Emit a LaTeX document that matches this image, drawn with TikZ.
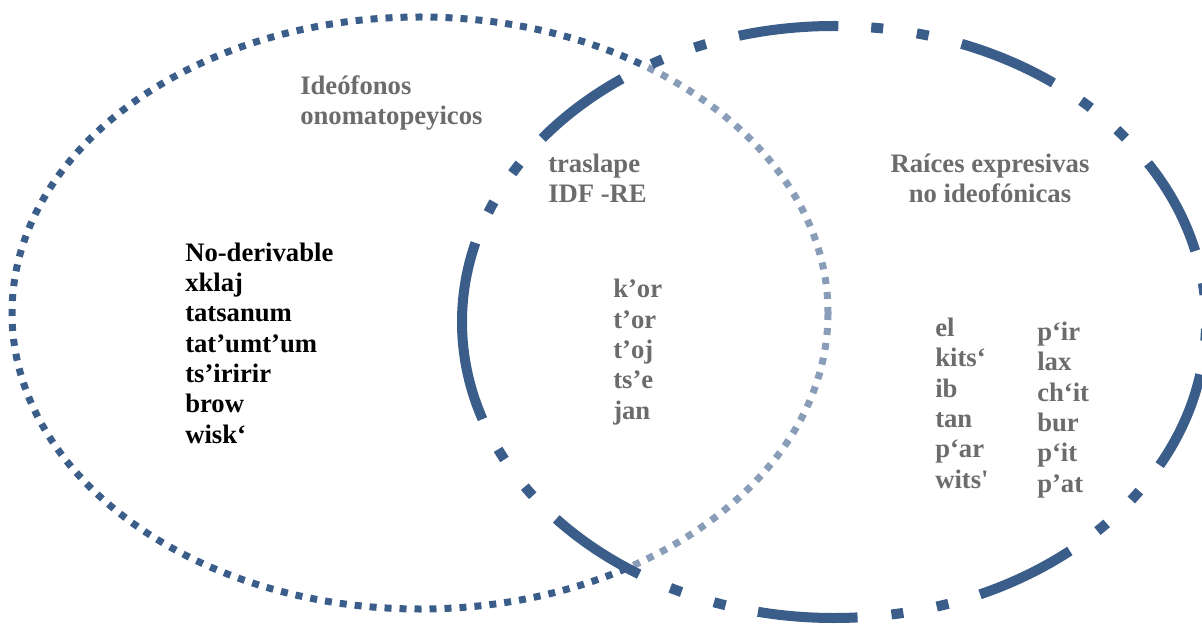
\documentclass[tikz,border=0pt]{standalone}
\usepackage{fontspec}
\setmainfont{Liberation Serif}
\definecolor{venn}{RGB}{59,93,138}
\definecolor{txtgray}{RGB}{108,108,108}

\begin{document}
\begin{tikzpicture}
    [x=0.75pt, y=-0.75pt,
     idf/.style={venn, line width=5.25pt, dash pattern=on 5.25pt off 6pt},
     re/.style={venn, line width=7.5pt,
        dash pattern=on 75pt off 25.5pt on 9pt off 25.5pt on 9pt off 24.75pt},
     lbl/.style={txtgray, font=\bfseries\fontsize{20}{22.7}\selectfont,
        align=left, inner sep=0pt, anchor=base west},
     lst/.style={lbl, black}]
    \useasboundingbox (0,0) rectangle (1202,627);
    \draw[idf] (420,313) ellipse [x radius=408, y radius=296];
    % aclarar el traslape
    \fill[white, opacity=0.4] (834,322) ellipse [x radius=372, y radius=296];
    \draw[re] (462,322) arc [start angle=180, end angle=-180,
        x radius=372, y radius=296];

    % base = linea final de cada bloque
    \node[lbl] (ideo) at (300,125) {Ideófonos\\onomatopeyicos};
    \node[lbl] (traslape) at (548,203) {traslape\\IDF -RE};
    \node[lbl, align=center, anchor=base] (raices) at (990,203)
        {Raíces expresivas\\no ideofónicas};
    \node[lst] (noderiv) at (185,443)
        {No-derivable\\xklaj\\tatsanum\\tat’umt’um\\ts’iririr\\brow\\wisk‘};
    \node[lbl] (comun) at (613,419) {k’or\\t’or\\t’oj\\ts’e\\jan};
    \node[lbl] (rea) at (935,488)
        {el\\kits‘\\ib\\tan\\p‘ar\\wits\textquotesingle};
    \node[lbl] (reb) at (1037,492) {p‘ir\\lax\\ch‘it\\bur\\p‘it\\p’at};
\end{tikzpicture}
\end{document}
